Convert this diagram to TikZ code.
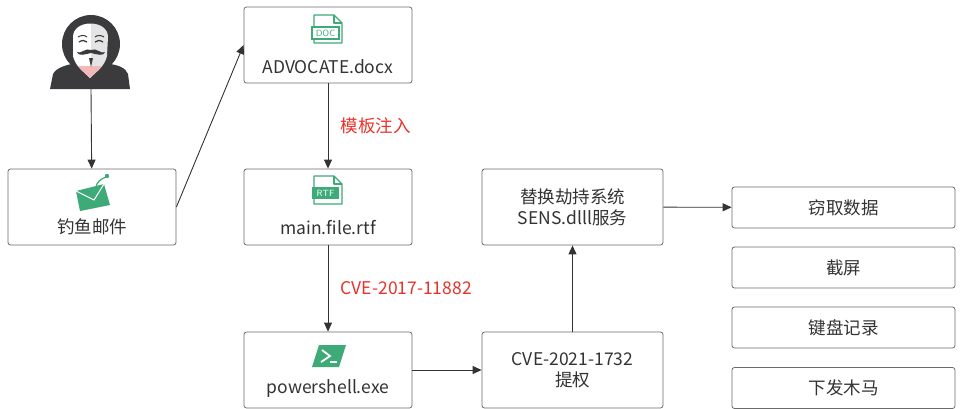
\documentclass[tikz,border=0pt]{standalone}
\usepackage{fontspec}
\setmainfont{Noto Sans CJK SC}
\usetikzlibrary{arrows.meta}
\definecolor{icongreen}{HTML}{3DAA78}
\definecolor{boxline}{HTML}{6B6B6B}
\definecolor{labelred}{HTML}{E8332A}
\definecolor{hoodgray}{HTML}{3B3B3D}
\definecolor{maskgray}{HTML}{E4E4E4}
\definecolor{chinpink}{HTML}{F2B9B9}
\definecolor{txtgray}{HTML}{333333}
\begin{document}
\begin{tikzpicture}[x=1pt,y=-1pt,
  box/.style={draw=boxline, line width=0.8pt, rounded corners=2.5pt, fill=white, inner sep=0pt, align=center, text=txtgray, font=\fontsize{17.5}{21}\selectfont},
  bigbox/.style={box, minimum width=168pt, minimum height=76pt},
  midbox/.style={box, minimum width=181pt, minimum height=76pt},
  smallbox/.style={box, minimum width=223pt, minimum height=41pt},
  txt/.style={inner sep=0pt, text=txtgray, font=\fontsize{17.5}{21}\selectfont},
  redlbl/.style={text=labelred, font=\fontsize{17.5}{21}\selectfont},
  flow/.style={draw=txtgray, line width=0.9pt, -{Triangle[length=9pt,width=8pt]}},
  tag/.style={inner sep=0pt, font=\sffamily\fontsize{9}{10}\selectfont}]
\useasboundingbox (0,0) rectangle (963,408);
\clip (0,0) rectangle (963,408);

% attacker
\fill[hoodgray] (91,44) circle (29);
\fill[hoodgray] (50,89) -- (53,74) .. controls (56,68) and (66,65) .. (72,64) -- (110,64) .. controls (118,65) and (126,68) .. (128,74) -- (130,89) -- cycle;
\begin{scope}
\clip (73,37) .. controls (73,19) and (108,19) .. (108,37) -- (107,56) .. controls (105,66) and (96,72) .. (90,78) .. controls (84,72) and (75,66) .. (73,56) -- cycle;
\fill[white] (70,15) rectangle (91,80);
\fill[maskgray] (91,15) rectangle (110,80);
\fill[chinpink] (70,66) -- (110,66) -- (110,80) -- (70,80) -- cycle;
\end{scope}
\draw[hoodgray, line width=1pt] (78,37) .. controls (81,35) and (85,35) .. (87,37);
\draw[hoodgray, line width=1pt] (95,37) .. controls (97,35) and (101,35) .. (104,37);
\draw[hoodgray, line width=1.3pt] (79,42) .. controls (82,40) and (85,40) .. (87,42);
\draw[hoodgray, line width=1.3pt] (95,42) .. controls (97,40) and (100,40) .. (103,42);
\fill[hoodgray] (77,52) .. controls (80,55) and (86,47) .. (91,50) .. controls (96,47) and (102,55) .. (105,52) .. controls (104,57) and (96,54) .. (91,53) .. controls (86,54) and (78,57) .. (77,52) -- cycle;
\fill[hoodgray] (89,58) -- (93,58) -- (91,67) -- cycle;
\coordinate (hacker) at (91,89);

% boxes
\node[bigbox] (mail) at (92,207) {};
\node[txt] (mailtxt) at (92,227) {钓鱼邮件};
\node[bigbox] (doc) at (328,45) {};
\node[txt] (doctxt) at (328,67) {ADVOCATE.docx};
\node[bigbox] (rtf) at (328,207) {};
\node[txt] (rtftxt) at (328,228) {main.file.rtf};
\node[bigbox] (ps) at (328,370) {};
\node[txt] (pstxt) at (328,389) {powershell.exe};
\node[midbox] (hijack) at (572.5,207) {替换劫持系统\\SENS.dlll服务};
\node[midbox] (priv) at (572.5,370) {CVE-2021-1732\\提权};
\node[smallbox] (steal) at (843.5,207.5) {窃取数据};
\node[smallbox] (shot) at (843.5,267.5) {截屏};
\node[smallbox] (keylog) at (843.5,327.5) {键盘记录};
\node[smallbox] (trojan) at (843.5,388) {下发木马};

% mail icon
\fill[icongreen] (76,191) -- (104,184) -- (110,205) -- (80,211) -- cycle;
\draw[white, line width=1pt] (76,191) -- (94,200) -- (104,184);
\draw[icongreen, line width=1.2pt] (96,188) .. controls (96,182) and (101,179) .. (106,177);
\fill[icongreen] (107,176) circle (2.2);

% doc icon
\draw[icongreen, line width=1.3pt, fill=white, line join=round] (314,15) -- (334,15) -- (342,23) -- (342,43) -- (314,43) -- cycle;
\draw[icongreen, line width=1.3pt, line join=round] (334,15) -- (334,23) -- (342,23);
\draw[icongreen, line width=1.1pt, fill=white] (312,27) rectangle (339,39);
\node[tag, text=icongreen] (doctag) at (325.5,33) {DOC};

% rtf icon
\draw[icongreen, line width=1.3pt, fill=white, line join=round] (314,176) -- (334,176) -- (342,184) -- (342,204) -- (314,204) -- cycle;
\draw[icongreen, line width=1.3pt, line join=round] (334,176) -- (334,184) -- (342,184);
\fill[icongreen] (312,187) rectangle (339,199);
\node[tag, text=white] (rtftag) at (325.5,193) {RTF};

% powershell icon
\fill[icongreen] (319,345) -- (346,345) -- (339,367) -- (312,367) -- cycle;
\draw[white, line width=1.8pt] (322,350) -- (330,356) -- (321,362);
\draw[white, line width=1.8pt] (330,362) -- (337,362);

% connectors
\draw[flow] (hacker) -- (mail);
\draw[flow] (mail.east) -- (doc.west);
\draw[flow] (doc) -- node[redlbl, right=9pt] (tpl) {模板注入} (rtf);
\draw[flow] (rtf) -- node[redlbl, right=9pt] (cve17) {CVE-2017-11882} (ps);
\draw[flow] (ps) -- (priv);
\draw[flow] (priv) -- (hijack);
\draw[flow] (hijack) -- (steal);
\end{tikzpicture}
\end{document}
